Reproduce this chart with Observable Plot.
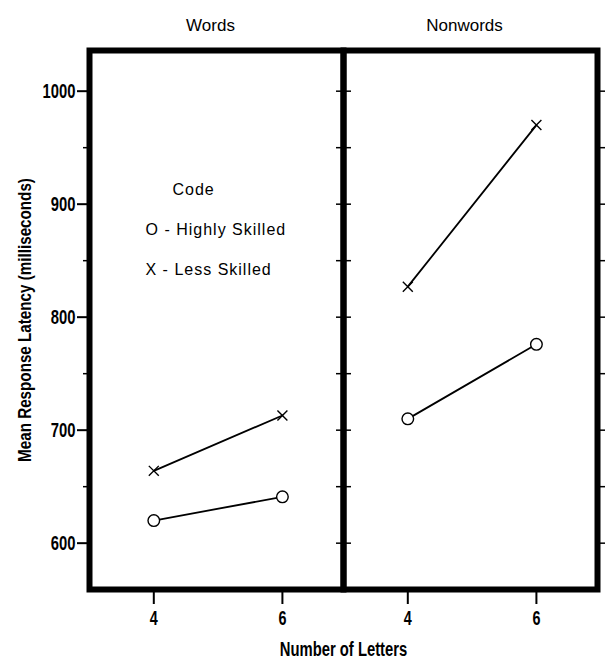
<!DOCTYPE html>
<html>
<head>
<meta charset="utf-8">
<script src="https://cdn.jsdelivr.net/npm/d3@7"></script>
<script src="https://cdn.jsdelivr.net/npm/@observablehq/plot@0.6"></script>
<style>
  html, body { margin: 0; padding: 0; background: #fff; }
  #chart svg { display: block; background: #fff; overflow: visible; }
  #chart g[aria-label="y-axis tick label"] text,
  #chart g[aria-label="x-axis tick label"] text,
  #chart g[aria-label="y-axis label"] text,
  #chart g[aria-label="fx-axis label"] text {
    font-family: "Liberation Sans", Arial, sans-serif;
    font-weight: bold;
  }
  #chart g[aria-label="y-axis tick label"] text { font-size: 20px; }
  #chart g[aria-label="x-axis tick label"] text { font-size: 20px; }
  #chart g[aria-label="y-axis label"] text { font-size: 19px; }
  #chart g[aria-label="fx-axis label"] text { font-size: 20px; }
  #chart g[aria-label="fx-axis tick label"] text {
    font-family: "Liberation Sans", Arial, sans-serif; font-size: 17px;
  }
  #chart g[aria-label="text"] text {
    font-family: "Liberation Sans", Arial, sans-serif; font-size: 16px;
    letter-spacing: 1px;
  }
</style>
</head>
<body>
<div id="chart"></div>
<script>
// ---- data ----
const conditions = ["Words", "Nonwords"];
const letterCounts = [4, 6];
const wordsHighlySkilled = [620, 641];
const wordsLessSkilled = [664, 713];
const nonwordsHighlySkilled = [710, 776];
const nonwordsLessSkilled = [827, 970];
const yMajorTicks = [600, 700, 800, 900, 1000];
const yMinorTicks = [650, 750, 850, 950];
const legendLabels = ["Code", "O - Highly Skilled", "X - Less Skilled"];
const xTitle = "Number of Letters";
const yTitle = "Mean Response Latency (milliseconds)";

// ---- build tidy rows ----
const seriesTable = [
  ["Words", "Highly Skilled", wordsHighlySkilled],
  ["Words", "Less Skilled", wordsLessSkilled],
  ["Nonwords", "Highly Skilled", nonwordsHighlySkilled],
  ["Nonwords", "Less Skilled", nonwordsLessSkilled]
];
const rows = seriesTable.flatMap(([condition, group, values]) =>
  values.map((v, i) => ({condition, group, letters: letterCounts[i], latency: v}))
);
const highRows = rows.filter(d => d.group === "Highly Skilled");
const lessRows = rows.filter(d => d.group === "Less Skilled");
const allYTicks = [...yMajorTicks, ...yMinorTicks];

const plot = Plot.plot({
  width: 606,
  height: 661,
  marginLeft: 89,
  marginRight: 9,
  marginTop: 50,
  marginBottom: 72,
  style: {background: "#fff", color: "#000"},
  fx: {domain: conditions, padding: 0},
  x: {domain: [3, 6.95]},
  y: {domain: [559, 1036]},
  marks: [
    Plot.frame({stroke: "#000", strokeWidth: 6}),
    // left axis: major ticks with labels
    Plot.axisY(yMajorTicks, {anchor: "left", tickSize: 12, tickPadding: 2, strokeWidth: 2,
      tickFormat: d => String(d), label: null}),
    // y title (separate so it can be nudged)
    Plot.axisY([], {anchor: "left", tickSize: 0, text: null, label: yTitle,
      labelAnchor: "center", labelArrow: "none", labelOffset: 72, dy: -13}),
    // left axis minor ticks
    Plot.axisY(yMinorTicks, {anchor: "left", tickSize: 6, strokeWidth: 1.5, text: null, label: null}),
    // ticks on right side of each panel (divider + outer right)
    Plot.axisY(allYTicks, {anchor: "right", tickSize: 7, strokeWidth: 1.5, text: null, label: null, facetAnchor: null}),
    // ticks crossing the divider, drawn from the right panel
    Plot.axisY(allYTicks, {anchor: "left", tickSize: 7, strokeWidth: 1.5, text: null, label: null, facetAnchor: "right"}),
    // x axis
    Plot.axisX(letterCounts, {anchor: "bottom", tickSize: 15, tickPadding: 6, strokeWidth: 2, label: null}),
    // panel titles
    Plot.axisFx({anchor: "top", tickSize: 0, tickPadding: 20, label: null, dx: -6}),
    // shared x title
    Plot.axisFx({anchor: "bottom", tickSize: 0, tickFormat: () => "", label: xTitle,
      labelAnchor: "center", labelOffset: 66, dx: 2}),
    // series
    Plot.line(rows, {x: "letters", y: "latency", z: "group", fx: "condition", stroke: "#000", strokeWidth: 1.8}),
    Plot.dot(highRows, {x: "letters", y: "latency", fx: "condition", r: 5.8, fill: "#fff", stroke: "#000", strokeWidth: 1.4}),
    Plot.dot(lessRows, {x: "letters", y: "latency", fx: "condition", symbol: "times", r: 4.6, stroke: "#000", strokeWidth: 1.4}),
    // legend inside the Words panel
    Plot.text([legendLabels[0]], {text: d => d, fx: () => "Words", frameAnchor: "top-left", dx: 83, dy: 133, fill: "#000"}),
    Plot.text([legendLabels[1]], {text: d => d, fx: () => "Words", frameAnchor: "top-left", dx: 56, dy: 173, fill: "#000"}),
    Plot.text([legendLabels[2]], {text: d => d, fx: () => "Words", frameAnchor: "top-left", dx: 56, dy: 213, fill: "#000"})
  ]
});
document.getElementById("chart").appendChild(plot);

// condense the bold axis type to imitate the reference's narrow face
function condense(selector, factor) {
  plot.querySelectorAll(selector).forEach(t => {
    const len = t.getComputedTextLength();
    if (len > 0) {
      t.setAttribute("textLength", (len * factor).toFixed(1));
      t.setAttribute("lengthAdjust", "spacingAndGlyphs");
    }
  });
}
condense('g[aria-label="y-axis tick label"] text', 0.74);
condense('g[aria-label="x-axis tick label"] text', 0.72);
condense('g[aria-label="y-axis label"] text', 0.8);
condense('g[aria-label="fx-axis label"] text', 0.74);
</script>
</body>
</html>
